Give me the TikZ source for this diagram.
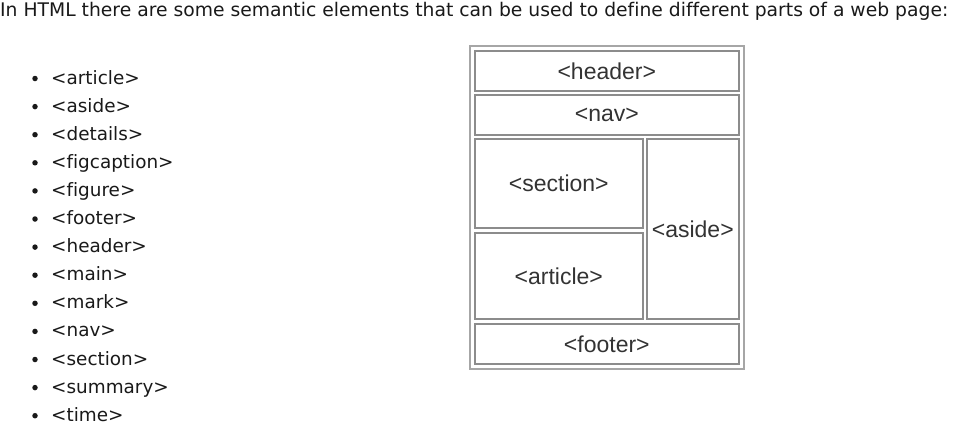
\documentclass[tikz,border=0pt]{standalone}
\usepackage{fontspec}
\setmainfont{DejaVu Sans}[Ligatures=NoCommon]
\newfontfamily\arialfont{Liberation Sans}
\begin{document}
\begin{tikzpicture}[x=1pt,y=-1pt,
  txt/.style={anchor=base west,inner sep=0pt,font=\fontsize{18.4}{20}\selectfont,text=black!90},
  lbox/.style={draw=black!45,line width=1.6pt,anchor=north west,inner sep=0pt,font=\arialfont\fontsize{23}{25}\selectfont,text=black!80},
  bul/.style={circle,fill=black!90,inner sep=0pt,minimum size=5.5pt}]
\useasboundingbox (0,0) rectangle (956,424);
\node[txt,font=\fontsize{18.75}{20}\selectfont] (intro) at (0,16) {In HTML there are some semantic elements that can be used to define different parts of a web page:};
\foreach \t [count=\i from 0] in {article,aside,details,figcaption,figure,footer,header,main,mark,nav,section,summary,time}{
  \node[bul] (b\i) at (35,{78.5+28.1*\i}) {};
  \node[txt] (t\i) at (51,{84+28.1*\i}) {<\t>};
}
\node[draw=black!35,line width=2pt,anchor=north west,minimum width=274pt,minimum height=323pt,inner sep=0pt] (outer) at (469,45) {};
\node[lbox,minimum width=264pt,minimum height=40pt] (header) at (474,50) {<header>};
\node[lbox,minimum width=264pt,minimum height=40pt] (nav) at (474,94) {<nav>};
\node[lbox,minimum width=168pt,minimum height=89pt] (section) at (474,138) {<section>};
\node[lbox,minimum width=168pt,minimum height=86pt] (article) at (474,232) {<article>};
\node[lbox,minimum width=92pt,minimum height=180pt] (aside) at (646,138) {<aside>};
\node[lbox,minimum width=264pt,minimum height=40pt] (footer) at (474,323) {<footer>};
\end{tikzpicture}
\end{document}
